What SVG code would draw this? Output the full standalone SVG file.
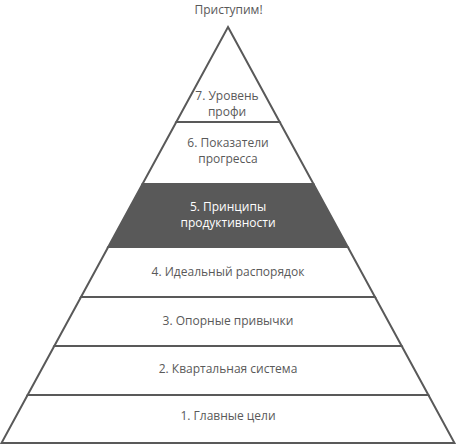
<svg xmlns="http://www.w3.org/2000/svg" width="456" height="444" viewBox="0 0 456 444">
<style>
.lv{fill:#ffffff;stroke:#595959;stroke-width:2;stroke-linejoin:miter}
.dk{fill:#595959;stroke:#595959;stroke-width:2}
text{font-family:"Open Sans","Liberation Sans",sans-serif;font-size:12px;fill:#595959;text-anchor:middle}
.w{fill:#ffffff}
</style>
<rect width="456" height="444" fill="#ffffff"/>
<g id="title"><text x="228.5" y="14">Приступим!</text></g>
<g id="level1"><polygon class="lv" points="27.6,395 428.4,395 454.5,443 1.5,443"/><text x="228" y="420">1. Главные цели</text></g>
<g id="level2"><polygon class="lv" points="54.3,346 401.7,346 428.4,395 27.6,395"/><text x="228" y="373">2. Квартальная система</text></g>
<g id="level3"><polygon class="lv" points="81,297 375,297 401.7,346 54.3,346"/><text x="228" y="325">3. Опорные привычки</text></g>
<g id="level4"><polygon class="lv" points="108.2,247 347.8,247 375,297 81,297"/><text x="228" y="276">4. Идеальный распорядок</text></g>
<g id="level5"><polygon class="dk" points="142.5,184 313.5,184 347.8,247 108.2,247"/><text class="w" x="228" y="211">5. Принципы</text><text class="w" x="228" y="227">продуктивности</text></g>
<g id="level6"><polygon class="lv" points="176.3,122 279.7,122 313.5,184 142.5,184"/><text x="228" y="147">6. Показатели</text><text x="228" y="163">прогресса</text></g>
<g id="level7"><polygon class="lv" points="228,27 279.7,122 176.3,122"/><text x="227" y="100">7. Уровень</text><text x="227" y="116">профи</text></g>
</svg>
